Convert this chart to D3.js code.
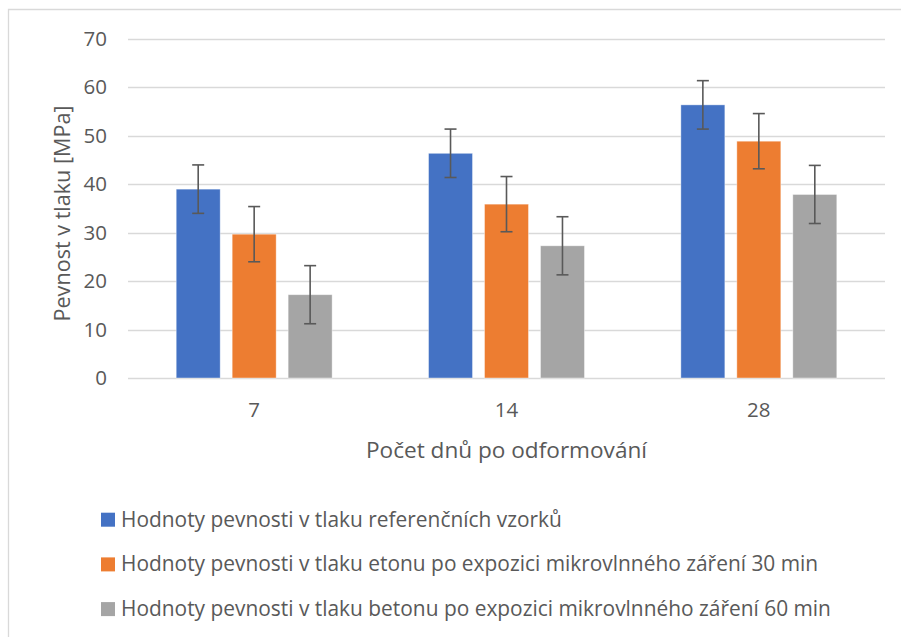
<!DOCTYPE html>
<html>
<head>
<meta charset="utf-8">
<script src="https://cdn.jsdelivr.net/npm/d3@7/dist/d3.min.js"></script>
<style>
  html, body { margin: 0; padding: 0; background: #fff; }
  svg { display: block; font-family: "Open Sans", "Noto Sans", sans-serif; }
</style>
</head>
<body>
<svg id="chart" width="901" height="637"></svg>
<script>
// Compressive strength by curing age (days after demoulding)
const categories = ["7", "14", "28"];
const seriesNames = [
  "Hodnoty pevnosti v tlaku referenčních vzorků",
  "Hodnoty pevnosti v tlaku etonu po expozici mikrovlnného záření 30 min",
  "Hodnoty pevnosti v tlaku betonu po expozici mikrovlnného záření 60 min"
];
const referenceValues = [39.0, 46.4, 56.4];
const microwave30Values = [29.7, 35.9, 48.9];
const microwave60Values = [17.2, 27.3, 37.9];
const errorMargins = [5.0, 5.7, 6.0];
const yTicks = [0, 10, 20, 30, 40, 50, 60, 70];
const colors = ["#4472C4", "#ED7D31", "#A5A5A5"];

const seriesValues = [referenceValues, microwave30Values, microwave60Values];
const series = seriesNames.map((name, i) => ({
  name, color: colors[i], err: errorMargins[i],
  values: seriesValues[i]
}));

const svg = d3.select("#chart");
const margin = { left: 128, right: 16, top: 39, bottom: 259 };
const W = 901, H = 637;
const plotW = W - margin.left - margin.right;
const plotH = H - margin.top - margin.bottom;
const textColor = "#595959";

// chart frame (open to the right and bottom)
svg.append("path")
  .attr("d", `M8.5,${H} V9.5 H${W}`)
  .attr("fill", "none").attr("stroke", "#d9d9d9").attr("stroke-width", 1.3);

const g = svg.append("g").attr("transform", `translate(${margin.left},${margin.top})`);

const y = d3.scaleLinear().domain([0, 70]).range([plotH, 0]);
const x0 = d3.scaleBand().domain(categories).range([0, plotW]).paddingInner(0.382).paddingOuter(0.191);
const x1 = d3.scaleBand().domain(d3.range(series.length)).range([0, x0.bandwidth()]).paddingInner(0.214);

// gridlines
g.append("g").selectAll("line").data(yTicks).join("line")
  .attr("x1", 0).attr("x2", plotW)
  .attr("y1", d => Math.round(y(d)) + 0.5).attr("y2", d => Math.round(y(d)) + 0.5)
  .attr("stroke", "#d9d9d9").attr("stroke-width", 1.3);

// y axis labels
const yAxis = d3.axisLeft(y).tickValues(yTicks).tickSize(0).tickPadding(21);
const ya = g.append("g").call(yAxis);
ya.select(".domain").remove();
ya.selectAll("text").attr("fill", textColor).attr("font-size", 20.5)
  .attr("font-family", "'Open Sans', sans-serif");

// x axis labels
const xAxis = d3.axisBottom(x0).tickSize(0).tickPadding(0);
const xa = g.append("g").attr("transform", `translate(0,${plotH})`).call(xAxis);
xa.select(".domain").remove();
xa.selectAll("text").attr("fill", textColor).attr("font-size", 20.5)
  .attr("font-family", "'Open Sans', sans-serif")
  .attr("dy", null).attr("y", 39);

// bars
const groups = g.append("g").selectAll("g").data(categories).join("g")
  .attr("transform", d => `translate(${x0(d)},0)`);

groups.each(function(cat, ci) {
  const grp = d3.select(this);
  series.forEach((s, si) => {
    const v = s.values[ci];
    const bx = x1(si), bw = x1.bandwidth();
    grp.append("rect")
      .attr("x", bx).attr("y", y(v))
      .attr("width", bw).attr("height", y(0) - y(v))
      .attr("fill", s.color)
      .attr("stroke", "#ffffff").attr("stroke-opacity", 0.5).attr("stroke-width", 0.8);
    // error bar
    const cx = bx + bw / 2;
    const eb = grp.append("g").attr("stroke", "#595959").attr("stroke-width", 1.6);
    eb.append("line").attr("x1", cx).attr("x2", cx).attr("y1", y(v + s.err)).attr("y2", y(v - s.err));
    eb.append("line").attr("x1", cx - 6).attr("x2", cx + 6).attr("y1", y(v + s.err)).attr("y2", y(v + s.err));
    eb.append("line").attr("x1", cx - 6).attr("x2", cx + 6).attr("y1", y(v - s.err)).attr("y2", y(v - s.err));
  });
});

// axis titles
svg.append("text")
  .attr("x", margin.left + plotW / 2).attr("y", 458)
  .attr("text-anchor", "middle").attr("fill", textColor).attr("font-size", 22.6)
  .text("Počet dnů po odformování");

svg.append("text")
  .attr("transform", `translate(70,${margin.top + plotH / 2 + 5}) rotate(-90)`)
  .attr("text-anchor", "middle").attr("fill", textColor).attr("font-size", 21.6)
  .text("Pevnost v tlaku [MPa]");

// legend
const legend = svg.append("g").selectAll("g").data(series).join("g")
  .attr("transform", (d, i) => `translate(101,${519.7 + i * 44.7})`);
legend.append("rect").attr("x", 0).attr("y", -7).attr("width", 14).attr("height", 14)
  .attr("fill", d => d.color);
legend.append("text").attr("x", 20).attr("y", 7)
  .attr("fill", textColor).attr("font-size", 20.9)
  .text(d => d.name);
</script>
</body>
</html>
